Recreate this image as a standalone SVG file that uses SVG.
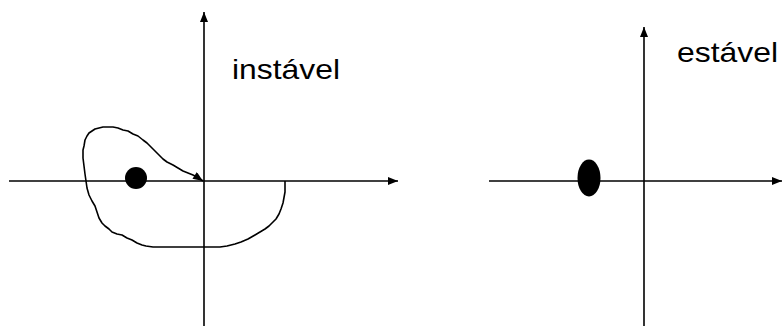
<svg xmlns="http://www.w3.org/2000/svg" width="782" height="326" viewBox="0 0 782 326">
<style>
.ax{stroke:#000;stroke-width:1.6;fill:none}
.cv{stroke:#000;stroke-width:1.6;fill:none;stroke-linejoin:round}
.lbl{font-family:"Liberation Sans",Arial,sans-serif;fill:#000}
</style>
<defs>
<marker id="ah" viewBox="0 0 10 8" refX="10" refY="4" markerWidth="10" markerHeight="8" markerUnits="userSpaceOnUse" orient="auto">
<path d="M0,0 L10,4 L0,8 Z" fill="#000"/>
</marker>
<marker id="ah2" viewBox="0 0 10 8" refX="10" refY="4" markerWidth="11" markerHeight="8" markerUnits="userSpaceOnUse" orient="auto">
<path d="M0,0 L10,4 L0,8 Z" fill="#000"/>
</marker>
</defs>
<g id="connectors">
<line class="ax" x1="9" y1="181" x2="398" y2="181" marker-end="url(#ah)"/>
<line class="ax" x1="204" y1="326" x2="204" y2="12" marker-end="url(#ah)"/>
<line class="ax" x1="489" y1="181" x2="782" y2="181" marker-end="url(#ah)"/>
<line class="ax" x1="644" y1="326" x2="644" y2="27" marker-end="url(#ah)"/>
<polyline id="trajectory" class="cv" marker-end="url(#ah2)" points="285,181 285,192 283,203 281,209 279,214 276,219 273,222 269,226 265,229 260,232 255,235 248,239 241,242 235,244 227,246 220,247 213,247 200,247 185,247 170,247 153,247 146,246 142,245 137,243 132,240 127,238 122,235 117,234 112,232 109,229 105,226 102,223 99,218 97,212 95,206 92,201 89,195 87,188 86,181 85,174 84,166 83,158 83,150 84,146 85,140 87,136 89,133 92,131 95,129 99,128 103,127 108,127 113,127 118,128 123,130 128,131 133,134 138,136 143,140 147,143 151,147 155,151 159,155 163,159 167,162 173,165 178,168 183,171 188,173 193,175 197,177 203,181"/>
</g>
<g id="stable-point">
<circle cx="136" cy="178" r="11" fill="#000"/>
</g>
<g id="label-unstable">
<text class="lbl" x="232" y="79" font-size="28" textLength="108" lengthAdjust="spacingAndGlyphs">instável</text>
</g>
<g id="unstable-point">
<ellipse cx="589" cy="178" rx="11.5" ry="18.5" fill="#000"/>
</g>
<g id="label-stable">
<text class="lbl" x="677" y="62" font-size="28" textLength="101" lengthAdjust="spacingAndGlyphs">estável</text>
</g>
</svg>
